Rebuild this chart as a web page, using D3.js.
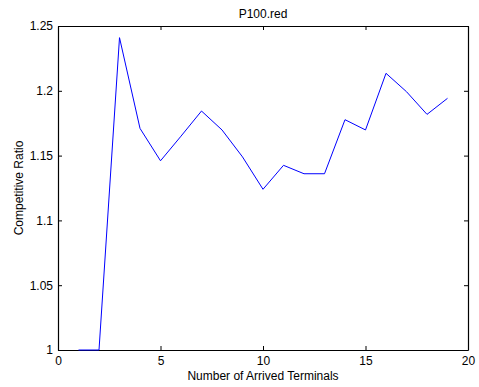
<!DOCTYPE html>
<html>
<head>
<meta charset="utf-8">
<script src="https://cdn.jsdelivr.net/npm/d3@7"></script>
<style>
  body { margin: 0; background: #fff; }
  text { font-family: "Liberation Sans", Arial, sans-serif; fill: #000; }
</style>
</head>
<body>
<div id="chart"></div>
<script>
// data
const terminals = [1, 2, 3, 4, 5, 6, 7, 8, 9, 10, 11, 12, 13, 14, 15, 16, 17, 18, 19];
const ratios = [1, 1, 1.241, 1.171, 1.146, 1.165, 1.1844, 1.1698, 1.149, 1.124,
    1.1425, 1.136, 1.136, 1.1777, 1.1698, 1.2135, 1.1993, 1.1818, 1.1942];
const xTicks = [0, 5, 10, 15, 20];
const yTicks = [1, 1.05, 1.1, 1.15, 1.2, 1.25];

const width = 479, height = 387;
const margin = { left: 58, right: 11, top: 26, bottom: 37 };

const svg = d3.select("#chart")
    .append("svg")
    .attr("width", width)
    .attr("height", height);

const x = d3.scaleLinear()
    .domain([0, 20])
    .range([margin.left, width - margin.right]);

const y = d3.scaleLinear()
    .domain([1, 1.25])
    .range([height - margin.bottom, margin.top]);

// axes, MATLAB style with inward ticks on all sides
svg.append("g")
    .attr("transform", "translate(0," + (height - margin.bottom) + ")")
    .call(d3.axisBottom(x).tickValues(xTicks).tickSizeInner(-4).tickSizeOuter(0).tickPadding(6))
    .call(g => g.selectAll("text").style("font-size", "12px"));

svg.append("g")
    .attr("transform", "translate(0," + margin.top + ")")
    .call(d3.axisTop(x).tickValues(xTicks).tickSizeInner(-4).tickSizeOuter(0).tickFormat(""));

svg.append("g")
    .attr("transform", "translate(" + margin.left + ",0)")
    .call(d3.axisLeft(y).tickValues(yTicks).tickSizeInner(-4).tickSizeOuter(0).tickPadding(5)
        .tickFormat(d3.format("")))
    .call(g => g.selectAll("text").style("font-size", "12px"));

svg.append("g")
    .attr("transform", "translate(" + (width - margin.right) + ",0)")
    .call(d3.axisRight(y).tickValues(yTicks).tickSizeInner(-4).tickSizeOuter(0).tickFormat(""));

svg.selectAll(".domain").attr("stroke", "#000").attr("stroke-width", 1.2);

// line
const line = d3.line()
    .x((d, i) => x(terminals[i]))
    .y(d => y(d));

svg.append("path")
    .datum(ratios)
    .attr("fill", "none")
    .attr("stroke", "#0000ff")
    .attr("stroke-width", 1)
    .attr("d", line);

// labels
svg.append("text")
    .attr("x", (margin.left + width - margin.right) / 2)
    .attr("y", 18)
    .attr("text-anchor", "middle")
    .style("font-size", "12px")
    .text("P100.red");

svg.append("text")
    .attr("x", (margin.left + width - margin.right) / 2)
    .attr("y", 380)
    .attr("text-anchor", "middle")
    .style("font-size", "12px")
    .text("Number of Arrived Terminals");

svg.append("text")
    .attr("transform", "translate(23," + ((margin.top + height - margin.bottom) / 2) + ") rotate(-90)")
    .attr("text-anchor", "middle")
    .style("font-size", "12px")
    .text("Competitive Ratio");
</script>
</body>
</html>
